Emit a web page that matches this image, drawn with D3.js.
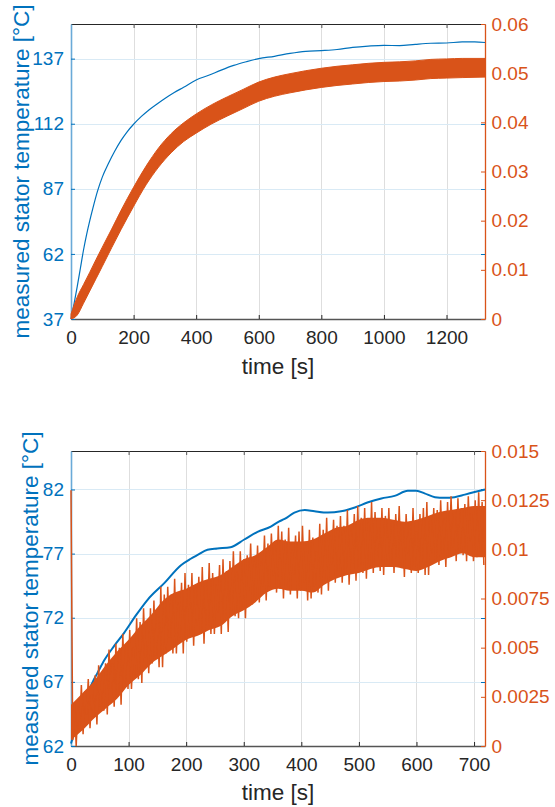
<!DOCTYPE html>
<html>
<head>
<meta charset="utf-8">
<script src="https://cdn.jsdelivr.net/npm/d3@7"></script>
<style>
  body { margin: 0; background: #ffffff; }
  svg { display: block; }
</style>
</head>
<body>
<svg id="fig" width="555" height="807"></svg>
<script>
// ---------------- data: long run (upper panel) ----------------
const topTempTime = [0,10,20,30,40,50,60,70,85,100,120,140,160,180,200,225,250,275,300,330,
  360,400,440,480,520,560,600,650,700,750,800,850,900,950,1000,1050,1100,1150,1200,1250,1290,1323];
const topTemp = [37,43,49.5,56.5,63.5,69.5,74.8,79.6,86.2,91.5,96.8,101.5,105.6,109.0,111.8,114.8,117.4,119.6,121.7,124,
  126,128.8,130.6,132.6,134.4,135.8,137.0,137.9,139.0,139.8,140.1,140.5,141.3,141.8,142.1,142.0,142.5,142.9,143.0,143.4,143.4,143.2];

// noisy right-axis signal, given as its lower / upper envelope
const topSigTime = [0,20,40,60,80,100,130,160,200,240,280,320,360,400,450,500,550,600,650,700,
  750,800,850,900,950,1000,1050,1100,1150,1200,1250,1323];
const topSigLow = [0.0000,0.0008,0.0032,0.0057,0.0082,0.0107,0.0145,0.0182,0.0229,0.0273,
  0.0309,0.0338,0.0361,0.0378,0.0397,0.0413,0.0428,0.0443,0.0453,0.0460,
  0.0466,0.0471,0.0475,0.0478,0.0481,0.0483,0.0484,0.0486,0.0489,0.0490,0.0491,0.0492];
const topSigHigh = [0.0010,0.0045,0.0070,0.0095,0.0121,0.0146,0.0183,0.0221,0.0268,0.0311,
  0.0348,0.0377,0.0399,0.0417,0.0436,0.0452,0.0467,0.0482,0.0492,0.0499,
  0.0505,0.0510,0.0514,0.0517,0.0520,0.0522,0.0523,0.0525,0.0528,0.0529,0.0530,0.0530];

const topTimeTicks = [0,200,400,600,800,1000,1200];
const topTempTicks = [37,62,87,112,137];
const topSigTicks = [0,0.01,0.02,0.03,0.04,0.05,0.06];
const topSigTickLabels = ["0","0.01","0.02","0.03","0.04","0.05","0.06"];

// ---------------- data: short run (lower panel) ----------------
const botTempTime = [0,10,20,30,40,46,58,75,92,113,133,162,191,208,220,237,254,277,301,324,
  347,361,371,388,406,423,446,469,493,516,539,562,585,600,614,632,649,666,684,701,719];
const botTemp = [62.2,63.6,65.0,66.2,67.2,67.7,68.7,69.8,70.8,72.2,73.4,74.7,76.1,76.6,76.9,77.3,77.4,77.5,78.1,78.7,
  79.1,79.5,79.7,80.2,80.4,80.3,80.2,80.3,80.6,81.0,81.3,81.5,81.9,81.9,81.7,81.4,81.35,81.4,81.6,81.8,82.0];

// oscillating right-axis signal: one maximum and one minimum per period,
// values in units of 1e-4
const botSigPeriod = 6; // s
const botSigPeaks = [130,22,20,31,28,34,26,36,41,36, 42,49,42,52,50,57,52,59,50,65,
  63,70,63,70,74,67,81,77,81,77, 85,73,83,88,82,88,81,86,91,83,
  93,88,82,92,95,89,94,99,89,99, 95,97,103,95,102,94,107,103,108,102,
  112,109,105,111,100,107,109,112,103,110, 106,99,113,110,116,107,115,112,117,112,
  120,110,118,122,116,121,115,124,119,111, 121,117,121,114,118,122,111,118,114,121,
  109,118,121,124,116,121,120,125,116,124, 127,119,126,121,123,127,119,125,129,124];
const botSigTroughs = [3,0,9,6,16,9,15,11,20,18, 16,29,20,25,21,32,29,29,36,34,
  32,45,37,42,46,40,40,47,55,47, 47,55,47,53,57,51,61,57,52,61,
  57,57,68,57,63,58,69,66,65,71, 65,78,72,75,73,81,74,81,86,78,
  80,75,81,77,87,75,79,83,74,75, 81,78,77,84,79,92,83,88,83,87,
  82,93,84,91,88,85,91,88,97,89, 87,94,92,88,96,91,86,98,88,91,
  88,94,87,87,98,94,92,98,91,96, 101,94,99,97,94,104,94,96,99,92];

// dense middle of the oscillation (where the trace overlaps itself), units of 1e-4
const botCoreTime = [0,20,40,60,80,100,120,140,160,180,200,220,240,260,280,300,320,340,360,380,
  400,420,440,460,480,500,520,540,560,580,600,620,640,660,680,700,719];
const botCoreLow = [3,8,14,19,24,31,36,42,46,50,54,56,59,61,66,69,73,78,80,79,
  79,78,82,85,87,88,90,91,91,90,89,91,94,96,98,96,96];
const botCoreHigh = [21,27,33,41,48,54,61,67,74,78,80,83,85,87,91,95,97,101,105,104,
  104,105,108,111,112,115,116,116,115,114,115,117,119,120,121,122,122];

const botTimeTicks = [0,100,200,300,400,500,600,700];
const botTempTicks = [62,67,72,77,82];
const botSigTicks = [0,0.0025,0.005,0.0075,0.01,0.0125,0.015];
const botSigTickLabels = ["0","0.0025","0.005","0.0075","0.01","0.0125","0.015"];

// ---------------- styling ----------------
const BLUE = "#0072BD", ORANGE = "#D95319", INK = "#262626";
const FONT = '"Liberation Sans", Arial, Helvetica, sans-serif';
const TICK_FS = 19, LABEL_FS = 22.5;

const svg = d3.select("#fig");

function makePanel(p) {
  const x = d3.scaleLinear().domain(p.timeDomain).range([p.left, p.right]);
  const yL = d3.scaleLinear().domain(p.tempDomain).range([p.bottom, p.top]);
  const yR = d3.scaleLinear().domain(p.sigDomain).range([p.bottom, p.top]);
  const g = svg.append("g");

  // grid: grey verticals, light blue horizontals
  g.append("g").selectAll("line").data(p.timeTicks.filter(t => t > p.timeDomain[0]))
    .join("line")
    .attr("x1", d => Math.round(x(d)) + 0.5).attr("x2", d => Math.round(x(d)) + 0.5)
    .attr("y1", p.top).attr("y2", p.bottom)
    .attr("stroke", "#dedede").attr("stroke-width", 1);
  g.append("g").selectAll("line").data(p.tempTicks.filter(t => t > p.tempDomain[0]))
    .join("line")
    .attr("x1", p.left).attr("x2", p.right)
    .attr("y1", d => Math.round(yL(d)) + 0.5).attr("y2", d => Math.round(yL(d)) + 0.5)
    .attr("stroke", "#d9eaf5").attr("stroke-width", 1);

  // bottom axis
  const ax = g.append("g").attr("transform", `translate(0,${p.bottom})`)
    .call(d3.axisBottom(x).tickValues(p.timeTicks).tickSizeInner(-4).tickSizeOuter(0)
      .tickPadding(12).tickFormat(d3.format("d")));
  ax.attr("font-size", TICK_FS).attr("font-family", FONT);
  ax.select(".domain").attr("stroke", "#555555").attr("stroke-width", 1.5);
  ax.selectAll(".tick line").attr("stroke", INK);
  ax.selectAll(".tick text").attr("fill", INK);

  // top border with inward ticks
  const at = g.append("g").attr("transform", `translate(0,${p.top})`)
    .call(d3.axisTop(x).tickValues(p.timeTicks).tickSizeInner(-4).tickSizeOuter(0).tickFormat(""));
  at.select(".domain").attr("stroke", INK).attr("stroke-width", 1);
  at.selectAll(".tick line").attr("stroke", "#555555");

  // left axis (temperature)
  const al = g.append("g").attr("transform", `translate(${p.left},0)`)
    .call(d3.axisLeft(yL).tickValues(p.tempTicks).tickSizeInner(-4).tickSizeOuter(0)
      .tickPadding(7).tickFormat(d3.format("d")));
  al.attr("font-size", TICK_FS).attr("font-family", FONT);
  al.select(".domain").attr("stroke", "#6aaad8").attr("stroke-width", 1.6);
  al.selectAll(".tick line").attr("stroke", BLUE);
  al.selectAll(".tick text").attr("fill", BLUE);

  // right axis (signal)
  const ar = g.append("g").attr("transform", `translate(${p.right},0)`)
    .call(d3.axisRight(yR).tickValues(p.sigTicks).tickSizeInner(-4).tickSizeOuter(0)
      .tickPadding(6.5).tickFormat((d, i) => p.sigTickLabels[i]));
  ar.attr("font-size", TICK_FS).attr("font-family", FONT);
  ar.select(".domain").attr("stroke", ORANGE).attr("stroke-width", 1.3);
  ar.selectAll(".tick line").attr("stroke", ORANGE);
  ar.selectAll(".tick text").attr("fill", ORANGE);

  // temperature ticks repeated on the right edge
  g.append("g").selectAll("line").data(p.tempTicks.filter(t => t > p.tempDomain[0]))
    .join("line")
    .attr("x1", p.right - 4).attr("x2", p.right)
    .attr("y1", d => Math.round(yL(d)) + 0.5).attr("y2", d => Math.round(yL(d)) + 0.5)
    .attr("stroke", BLUE).attr("stroke-width", 1);

  // axis titles
  g.append("text")
    .attr("transform", `translate(${p.ylabelX},${(p.top + p.bottom) / 2}) rotate(-90)`)
    .attr("text-anchor", "middle").attr("font-family", FONT).attr("font-size", LABEL_FS)
    .attr("fill", BLUE).text("measured stator temperature [°C]");
  g.append("text")
    .attr("x", (p.left + p.right) / 2).attr("y", p.xlabelY)
    .attr("text-anchor", "middle").attr("font-family", FONT).attr("font-size", LABEL_FS)
    .attr("fill", INK).text("time [s]");

  // data layer, clipped to the axes box (slightly padded so edge lines keep full width)
  const clipId = p.id + "-clip";
  g.append("clipPath").attr("id", clipId).append("rect")
    .attr("x", p.left - 1).attr("y", p.top).attr("width", p.right - p.left + 2.5)
    .attr("height", p.bottom - p.top + 1);
  const plot = g.append("g").attr("clip-path", `url(#${clipId})`);
  return { x, yL, yR, plot };
}

// ---------------- upper panel ----------------
const topP = makePanel({
  id: "top", left: 71, right: 485, top: 24, bottom: 319,
  timeDomain: [0, 1323], tempDomain: [37, 150.3], sigDomain: [0, 0.06],
  timeTicks: topTimeTicks, tempTicks: topTempTicks,
  sigTicks: topSigTicks, sigTickLabels: topSigTickLabels,
  ylabelX: 29, xlabelY: 374
});

topP.plot.append("path")
  .datum(topTempTime.map((t, i) => [t, topTemp[i]]))
  .attr("fill", "none").attr("stroke", BLUE).attr("stroke-width", 1.2)
  .attr("d", d3.line().x(d => topP.x(d[0])).y(d => topP.yL(d[1])).curve(d3.curveMonotoneX));

const topBand = topSigTime.map((t, i) => [t, topSigLow[i], topSigHigh[i]]);
topP.plot.append("path")
  .datum(topBand)
  .attr("fill", ORANGE).attr("stroke", ORANGE).attr("stroke-width", 1)
  .attr("stroke-linejoin", "round")
  .attr("d", d3.area().x(d => topP.x(d[0])).y0(d => topP.yR(d[1])).y1(d => topP.yR(d[2]))
    .curve(d3.curveMonotoneX));

// ---------------- lower panel ----------------
const botP = makePanel({
  id: "bot", left: 71, right: 485, top: 451, bottom: 746,
  timeDomain: [0, 719], tempDomain: [62, 85], sigDomain: [0, 0.015],
  timeTicks: botTimeTicks, tempTicks: botTempTicks,
  sigTicks: botSigTicks, sigTickLabels: botSigTickLabels,
  ylabelX: 38, xlabelY: 800
});

botP.plot.append("path")
  .datum(botTempTime.map((t, i) => [t, botTemp[i]]))
  .attr("fill", "none").attr("stroke", BLUE).attr("stroke-width", 2)
  .attr("stroke-linejoin", "round")
  .attr("d", d3.line().x(d => botP.x(d[0])).y(d => botP.yL(d[1])).curve(d3.curveMonotoneX));

// overlapping middle of the oscillation
botP.plot.append("path")
  .datum(botCoreTime.map((t, i) => [t, botCoreLow[i] * 1e-4, botCoreHigh[i] * 1e-4]))
  .attr("fill", ORANGE)
  .attr("d", d3.area().x(d => botP.x(d[0])).y0(d => botP.yR(d[1])).y1(d => botP.yR(d[2]))
    .curve(d3.curveMonotoneX));

// signal samples: maximum at the start of each period, minimum half a period later
const botSig = [];
botSigPeaks.forEach((v, k) => {
  botSig.push([k * botSigPeriod, v * 1e-4]);
  botSig.push([k * botSigPeriod + botSigPeriod / 2, botSigTroughs[k] * 1e-4]);
});
botP.plot.append("path")
  .datum(botSig)
  .attr("fill", "none").attr("stroke", ORANGE).attr("stroke-width", 1.5)
  .attr("stroke-linejoin", "miter")
  .attr("d", d3.line().x(d => botP.x(d[0])).y(d => botP.yR(d[1])));
</script>
</body>
</html>
